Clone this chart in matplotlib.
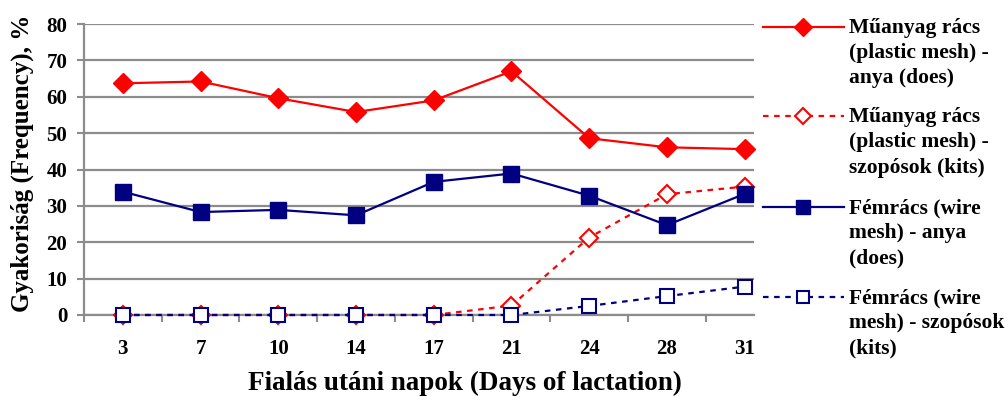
import numpy as np
import matplotlib.pyplot as plt
from matplotlib.lines import Line2D

plt.rcParams['font.family'] = ['Liberation Serif', 'DejaVu Serif']
plt.rcParams['font.weight'] = 'bold'

days = ['3', '7', '10', '14', '17', '21', '24', '28', '31']
plastic_does = [63.7, 64.2, 59.6, 55.8, 59.0, 67.0, 48.6, 46.1, 45.6]
plastic_kits = [0, 0, 0, 0, 0, 2.6, 21.3, 33.2, 35.3]
wire_does = [33.9, 28.3, 28.9, 27.4, 36.6, 38.9, 32.8, 24.7, 33.3]
wire_kits = [0, 0, 0, 0, 0, 0, 2.5, 5.2, 7.8]

labels = ['Műanyag rács\n(plastic mesh) -\nanya (does)',
          'Műanyag rács\n(plastic mesh) -\nszopósok (kits)',
          'Fémrács (wire\nmesh) - anya\n(does)',
          'Fémrács (wire\nmesh) - szopósok\n(kits)']

RED = '#FF0000'
NAVY = '#000080'
GRID = '#8C8C8C'

W, H = 1006, 397
fig = plt.figure(figsize=(W / 100, H / 100), dpi=100)
ax = fig.add_axes([84 / W, (H - 315) / H, 670 / W, 291 / H])

x = np.arange(len(days))
styles = [
    dict(color=RED, lw=1.6, ls='-', marker='D', ms=10, mfc=RED, mec=RED),
    dict(color=RED, lw=1.6, ls=(0, (2.5, 2.5)), marker='D', ms=9, mfc='white', mec=RED, mew=1.5),
    dict(color=NAVY, lw=1.6, ls='-', marker='s', ms=11, mfc=NAVY, mec=NAVY),
    dict(color=NAVY, lw=1.6, ls=(0, (2.5, 2.5)), marker='s', ms=9.5, mfc='white', mec=NAVY, mew=1.5),
]
series = [plastic_does, plastic_kits, wire_does, wire_kits]
for vals, st in zip(series, styles):
    ax.plot(x, vals, clip_on=False, zorder=3, **st)

ax.set_xlim(-0.5, 8.12)
ax.set_ylim(0, 80)
ax.set_yticks(range(0, 81, 10))
ax.set_xticks(x)
ax.set_xticklabels(days)
ax.set_xticks(np.arange(-0.5, 8.2, 1), minor=True)
ax.tick_params(axis='x', which='major', length=0, pad=17, labelsize=15)
ax.tick_params(axis='x', which='minor', length=5, color=GRID, width=1.5)
ax.tick_params(axis='y', length=5, color=GRID, width=1.5, labelsize=15, pad=7)
ax.yaxis.grid(True, color=GRID, lw=1.6)
ax.set_axisbelow(True)
for s in ['top', 'right']:
    ax.spines[s].set_visible(False)
for s in ['left', 'bottom']:
    ax.spines[s].set_color(GRID)
    ax.spines[s].set_linewidth(1.6)

ax.set_ylabel('Gyakoriság (Frequency), %', fontsize=18, fontweight='bold', va='center')
ax.yaxis.set_label_coords((22 - 84) / 670, (315 - 163) / 291)
ax.set_xlabel('Fialás utáni napok (Days of lactation)', fontsize=19.5, fontweight='bold', va='center')
ax.xaxis.set_label_coords((465 - 84) / 670, (315 - 383) / 291)

# legend drawn by hand on the right
ys = [27, 116, 207, 297]
for yy, st, lab in zip(ys, styles, labels):
    fy = 1 - yy / H
    fig.add_artist(Line2D([763 / W, 844 / W], [fy, fy], color=st['color'], lw=st['lw'], ls=st['ls']))
    fig.add_artist(Line2D([803 / W], [fy], marker=st['marker'], ms=st['ms'] * 0.9, mfc=st['mfc'],
                          mec=st['mec'], mew=st.get('mew', 1), ls='none'))
    fig.text(849 / W, 1 - (yy - 9) / H, lab, fontsize=15.5, fontweight='bold', va='top', ha='left',
             linespacing=1.35, transform=fig.transFigure)

fig.savefig('out.png', dpi=100)
